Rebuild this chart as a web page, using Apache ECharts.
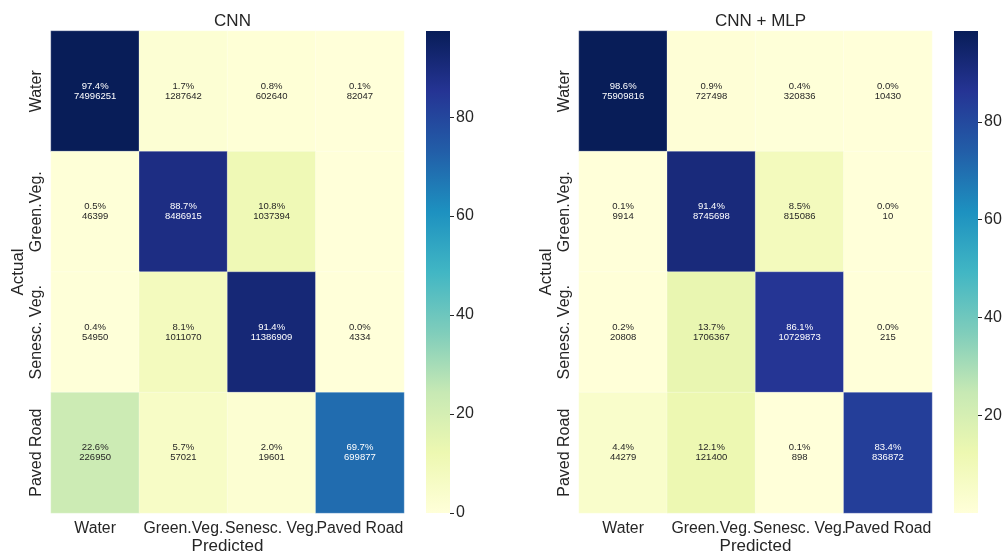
<!DOCTYPE html>
<html>
<head>
<meta charset="utf-8">
<script src="https://cdn.jsdelivr.net/npm/echarts@6/dist/echarts.min.js"></script>
<style>
  html, body { margin: 0; padding: 0; background: #ffffff; }
  #chart { width: 1007px; height: 554px; }
</style>
</head>
<body>
<div id="chart"></div>
<script>
// Class labels (rows = actual, columns = predicted)
const categories = ['Water', 'Green.Veg.', 'Senesc. Veg.', 'Paved Road'];

// CNN: row-normalised percentages and raw pixel counts
const cnnPercent = [
  [97.4, 1.7, 0.8, 0.1],
  [0.5, 88.7, 10.8, 0.0],
  [0.4, 8.1, 91.4, 0.0],
  [22.6, 5.7, 2.0, 69.7]
];
const cnnCounts = [
  [74996251, 1287642, 602640, 82047],
  [46399, 8486915, 1037394, null],
  [54950, 1011070, 11386909, 4334],
  [226950, 57021, 19601, 699877]
];

// CNN + MLP: row-normalised percentages and raw pixel counts
const mlpPercent = [
  [98.6, 0.9, 0.4, 0.0],
  [0.1, 91.4, 8.5, 0.0],
  [0.2, 13.7, 86.1, 0.0],
  [4.4, 12.1, 0.1, 83.4]
];
const mlpCounts = [
  [75909816, 727498, 320836, 10430],
  [9914, 8745698, 815086, 10],
  [20808, 1706367, 10729873, 215],
  [44279, 121400, 898, 836872]
];

// Colour bar ticks
const cnnBarTicks = [0, 20, 40, 60, 80];
const mlpBarTicks = [20, 40, 60, 80];

// YlGnBu colour ramp
const ylGnBu = ['#ffffd9', '#edf8b1', '#c7e9b4', '#7fcdbb', '#41b6c4',
                '#1d91c0', '#225ea8', '#253494', '#081d58'];

const TEXT = '#262626';
const FONT = '"Liberation Sans", Arial, sans-serif';

function maxOf(m) { return Math.max(...m.flat()); }
function minOf(m) { return Math.min(...m.flat()); }

function cells(percent, counts) {
  const out = [];
  percent.forEach((row, r) => {
    row.forEach((p, c) => {
      const n = counts[r][c];
      out.push({
        value: [c, r, p],
        label: {
          color: p > 50 ? '#ffffff' : TEXT,
          formatter: n == null ? '' : p.toFixed(1) + '%\n' + n
        }
      });
    });
  });
  return out;
}

function gradient() {
  return new echarts.graphic.LinearGradient(0, 1, 0, 0,
    ylGnBu.map((c, i) => ({ offset: i / (ylGnBu.length - 1), color: c })));
}

const cnnMax = maxOf(cnnPercent), cnnMin = minOf(cnnPercent);
const mlpMax = maxOf(mlpPercent), mlpMin = minOf(mlpPercent);

const gridBase = { outerBoundsMode: 'none', containLabel: false };
const heatGrids = [
  { ...gridBase, left: 51, top: 31, width: 353, height: 482 },
  { ...gridBase, left: 579, top: 31, width: 353, height: 482 }
];
const barGrids = [
  { ...gridBase, left: 426, top: 31, width: 24, height: 482 },
  { ...gridBase, left: 954, top: 31, width: 24, height: 482 }
];

function heatX(gridIndex) {
  return {
    type: 'category', gridIndex, data: categories, position: 'bottom',
    axisLine: { show: false }, axisTick: { show: false }, splitArea: { show: false },
    axisLabel: { fontSize: 15.8, color: TEXT, fontFamily: FONT, margin: 8, interval: 0,
                 overflow: 'none', hideOverlap: false },
    name: 'Predicted', nameLocation: 'middle', nameGap: 25, nameMoveOverlap: false,
    nameTextStyle: { fontSize: 17, color: TEXT, fontFamily: FONT }
  };
}
function heatY(gridIndex) {
  return {
    type: 'category', gridIndex, data: categories, inverse: true,
    axisLine: { show: false }, axisTick: { show: false },
    axisLabel: { fontSize: 16, color: TEXT, fontFamily: FONT, rotate: 90, margin: 6, interval: 0,
                 overflow: 'none', hideOverlap: false },
    name: 'Actual', nameLocation: 'middle', nameGap: 24, nameRotate: 90, nameMoveOverlap: false,
    nameTextStyle: { fontSize: 17, color: TEXT, fontFamily: FONT }
  };
}
function barX(gridIndex) {
  return { type: 'category', gridIndex, data: [''], show: false };
}
function barY(gridIndex, max, ticks) {
  return {
    type: 'value', gridIndex, min: 0, max, position: 'right',
    splitLine: { show: false }, axisLine: { show: false },
    axisTick: { show: true, length: 4, lineStyle: { color: TEXT, width: 1 }, customValues: ticks },
    axisLabel: { fontSize: 16, color: TEXT, fontFamily: FONT, margin: 6, customValues: ticks }
  };
}

const labelStyle = { show: true, fontSize: 9.5, fontFamily: FONT, lineHeight: 10 };
// faint light seams between cells
const cellStyle = { borderWidth: 0.6, borderColor: 'rgba(255,255,255,0.45)' };

const option = {
  backgroundColor: '#ffffff',
  animation: false,
  title: [
    { text: 'CNN', left: 227.5, top: 8, textAlign: 'center',
      textStyle: { fontSize: 17, fontWeight: 'normal', color: TEXT, fontFamily: FONT } },
    { text: 'CNN + MLP', left: 755.5, top: 8, textAlign: 'center',
      textStyle: { fontSize: 17, fontWeight: 'normal', color: TEXT, fontFamily: FONT } }
  ],
  grid: [...heatGrids, ...barGrids],
  xAxis: [heatX(0), heatX(1), barX(2), barX(3)],
  yAxis: [heatY(0), heatY(1), barY(2, cnnMax, cnnBarTicks), barY(3, mlpMax, mlpBarTicks)],
  visualMap: [
    { type: 'continuous', show: false, seriesIndex: 0, dimension: 2,
      min: cnnMin, max: cnnMax, inRange: { color: ylGnBu } },
    { type: 'continuous', show: false, seriesIndex: 1, dimension: 2,
      min: mlpMin, max: mlpMax, inRange: { color: ylGnBu } }
  ],
  series: [
    { type: 'heatmap', xAxisIndex: 0, yAxisIndex: 0,
      data: cells(cnnPercent, cnnCounts), label: labelStyle,
      itemStyle: cellStyle, emphasis: { disabled: true } },
    { type: 'heatmap', xAxisIndex: 1, yAxisIndex: 1,
      data: cells(mlpPercent, mlpCounts), label: labelStyle,
      itemStyle: cellStyle, emphasis: { disabled: true } },
    { type: 'bar', xAxisIndex: 2, yAxisIndex: 2, data: [cnnMax], barWidth: '100%',
      itemStyle: { color: gradient() }, silent: true },
    { type: 'bar', xAxisIndex: 3, yAxisIndex: 3, data: [mlpMax], barWidth: '100%',
      itemStyle: { color: gradient() }, silent: true }
  ]
};

const chart = echarts.init(document.getElementById('chart'), null, { renderer: 'canvas' });
chart.setOption(option);
</script>
</body>
</html>
